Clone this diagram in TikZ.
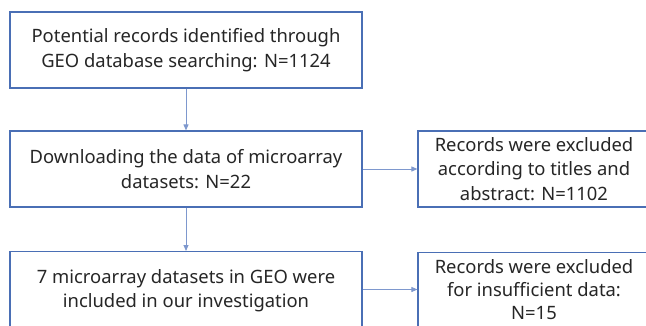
\documentclass[tikz,border=0pt]{standalone}
\usepackage{fontspec}
\setmainfont{Noto Sans}
\usetikzlibrary{arrows.meta}
\definecolor{boxblue}{HTML}{4A6FB5}
\definecolor{linkblue}{HTML}{7E98CE}
\definecolor{txt}{HTML}{262626}
\tikzset{
  label font/.style={text=txt, font=\fontsize{18.4}{24.5}\selectfont},
  stage/.style={draw=boxblue, line width=1.2pt, align=center, label font, inner sep=0pt},
  link/.style={draw=linkblue, line width=0.9pt, -{Triangle[length=6pt,width=5pt]}},
}
\begin{document}
\begin{tikzpicture}[x=1pt,y=-1pt]
  \useasboundingbox (0,0) rectangle (646,325);
  \clip (0,0) rectangle (646,325);
  \fill[white] (0,0) rectangle (646,325);
  % left column
  \node[stage, minimum width=352pt, minimum height=76pt] (search) at (186,50)
    {Potential records identified through\\GEO database searching: N=1124};
  \node[stage, minimum width=352pt, minimum height=76pt] (download) at (186,169)
    {Downloading the data of microarray\\datasets: N=22};
  \node[stage, minimum width=352pt, minimum height=84pt, anchor=north] (included) at (186,251)
    {};
  \node[label font, align=center] (inctext) at (186,290.5)
    {7 microarray datasets in GEO were\\included in our investigation};
  % right column
  \node[stage, minimum width=232pt, minimum height=76pt] (excl1) at (534,169)
    {Records were excluded\\according to titles and\\abstract: N=1102};
  \node[stage, minimum width=232pt, minimum height=90pt, anchor=north] (excl2) at (534,252)
    {};
  \node[label font, font=\fontsize{18.4}{23.2}\selectfont, align=center] (excltext) at (534,289.5)
    {Records were excluded\\for insufficient data:\\N=15};
  % connectors
  \draw[link] (search.south) -- (download.north);
  \draw[link] (download.south) -- (included.north);
  \draw[link] (download.east) -- (excl1.west);
  \draw[link] (included.east |- excltext) -- (excl2.west |- excltext);
\end{tikzpicture}
\end{document}
